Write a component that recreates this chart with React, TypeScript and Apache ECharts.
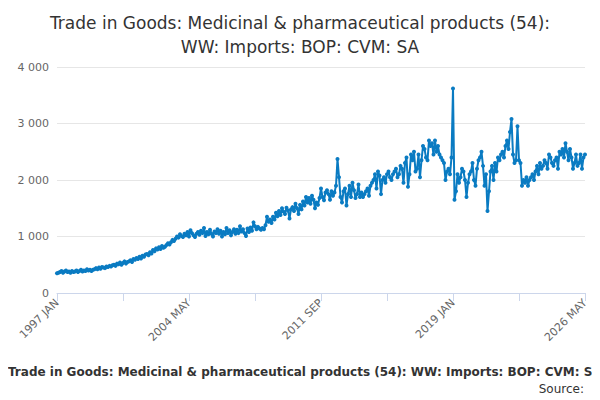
import { useEffect, useRef } from "react";
import * as echarts from "echarts";

const MONTHS = ["JAN", "FEB", "MAR", "APR", "MAY", "JUN", "JUL", "AUG", "SEP", "OCT", "NOV", "DEC"];

// monthly values, 1997 JAN .. 2026 MAY (one row per year)
const y1997 = [350, 360, 370, 390, 360, 380, 400, 370, 380, 360, 390, 370];
const y1998 = [380, 400, 370, 390, 410, 380, 400, 390, 420, 400, 410, 390];
const y1999 = [410, 420, 440, 420, 450, 430, 460, 450, 440, 470, 460, 480];
const y2000 = [470, 490, 500, 480, 520, 510, 540, 500, 530, 560, 520, 550];
const y2001 = [560, 580, 550, 600, 590, 620, 600, 640, 610, 660, 640, 680];
const y2002 = [690, 670, 720, 700, 760, 740, 790, 770, 810, 780, 830, 800];
const y2003 = [820, 850, 880, 860, 900, 940, 920, 960, 1000, 980, 1040, 1010];
const y2004 = [990, 1050, 1020, 1080, 1000, 1110, 1060, 1020, 990, 1050, 1080, 1030];
const y2005 = [1100, 1060, 1150, 1010, 1080, 1040, 1120, 1050, 1000, 1090, 1060, 1130];
const y2006 = [1050, 1100, 1000, 1080, 1040, 1150, 1060, 1110, 1020, 1080, 1130, 1050];
const y2007 = [1120, 1060, 1180, 1090, 1130, 1060, 1010, 1140, 1080, 1160, 1100, 1250];
const y2008 = [1180, 1130, 1170, 1140, 1120, 1150, 1130, 1200, 1350, 1260, 1300, 1240];
const y2009 = [1350, 1300, 1420, 1360, 1450, 1380, 1500, 1440, 1400, 1510, 1460, 1320];
const y2010 = [1480, 1520, 1450, 1580, 1500, 1400, 1560, 1480, 1620, 1550, 1700, 1600];
const y2011 = [1680, 1580, 1720, 1650, 1500, 1600, 1560, 1680, 1850, 1700, 1640, 1780];
const y2012 = [1820, 1750, 1650, 1800, 1720, 1780, 1900, 2370, 2050, 1700, 1600, 1800];
const y2013 = [1850, 1550, 1750, 1900, 1700, 1950, 1820, 1680, 1750, 1920, 1700, 1780];
const y2014 = [1700, 1750, 1800, 1850, 1720, 1900, 1950, 2000, 2100, 1850, 2150, 2080];
const y2015 = [1750, 2000, 2050, 1950, 2100, 2150, 2050, 2000, 2100, 2150, 2200, 2050];
const y2016 = [2100, 2250, 2200, 1950, 2300, 2400, 1880, 2100, 2450, 2350, 2500, 2150];
const y2017 = [2200, 2450, 2050, 2350, 2600, 2550, 2400, 2350, 2700, 2600, 2650, 2450];
const y2018 = [2700, 2500, 2600, 2450, 2400, 2350, 2300, 2000, 2150, 2200, 2100, 2400];
const y2019 = [3620, 1650, 1800, 2100, 1950, 2050, 2200, 2150, 2000, 1700, 1950, 2100];
const y2020 = [2150, 2300, 2000, 1900, 2200, 2350, 2400, 2500, 2250, 1900, 2100, 1450];
const y2021 = [1800, 2150, 2250, 2000, 2300, 2150, 2400, 2350, 2450, 2500, 2400, 2600];
const y2022 = [2700, 2550, 2850, 3080, 2450, 2300, 2350, 2950, 2350, 2300, 1900, 2000];
const y2023 = [1950, 2050, 1900, 2000, 2050, 2100, 2000, 2150, 2250, 2100, 2300, 2200];
const y2024 = [2250, 2350, 2300, 2200, 2450, 2400, 2300, 2250, 2350, 2400, 2200, 2500];
const y2025 = [2450, 2550, 2400, 2650, 2500, 2350, 2550, 2400, 2200, 2300, 2450, 2250];
const y2026 = [2300, 2450, 2200, 2400, 2450];

const YEARS = [y1997, y1998, y1999, y2000, y2001, y2002, y2003, y2004, y2005, y2006, y2007, y2008, y2009, y2010, y2011,
  y2012, y2013, y2014, y2015, y2016, y2017, y2018, y2019, y2020, y2021, y2022, y2023, y2024, y2025, y2026];

const categories: string[] = [];
const values: number[] = [];
YEARS.forEach((row, i) => row.forEach((v, m) => {
  categories.push(`${1997 + i} ${MONTHS[m]}`);
  values.push(v);
}));

const TITLE = "Trade in Goods: Medicinal & pharmaceutical products (54): WW: Imports: BOP: CVM: SA";

export default function App() {
  const ref = useRef<HTMLDivElement>(null);

  useEffect(() => {
    if (!ref.current) return;
    const chart = echarts.init(ref.current, undefined, { renderer: "svg" });
    chart.setOption({
      animation: false,
      title: {
        text: "Trade in Goods: Medicinal & pharmaceutical products (54):\nWW: Imports: BOP: CVM: SA",
        left: "center", top: -2,
        textStyle: { fontSize: 17, fontWeight: "normal", color: "#333", lineHeight: 24, fontFamily: "DejaVu Sans" },
      },
      graphic: [
        { type: "text", left: 0, top: 358, style: { text: TITLE, font: "bold 12px DejaVu Sans", fill: "#333" } },
        { type: "text", right: 8, top: 375, style: { text: "Source:", font: "12px DejaVu Sans", fill: "#333" } },
      ],
      grid: { left: 49, right: 7, top: 59, bottom: 107 },
      xAxis: {
        type: "category", data: categories, boundaryGap: false,
        axisLine: { lineStyle: { color: "#ccd6eb" } },
        axisTick: { alignWithLabel: true, interval: 43, lineStyle: { color: "#ccd6eb" }, length: 8 },
        axisLabel: { interval: 87, rotate: 45, color: "#666", fontSize: 11, fontFamily: "DejaVu Sans" },
      },
      yAxis: {
        type: "value", min: 0, max: 4000, interval: 1000,
        axisLabel: { color: "#666", fontSize: 11, fontFamily: "DejaVu Sans", formatter: (v: number) => v >= 1000 ? `${Math.floor(v / 1000)} ${String(v % 1000).padStart(3, "0")}` : `${v}` },
        splitLine: { lineStyle: { color: "#e6e6e6" } },
      },
      series: [{
        type: "line", data: values, symbol: "circle", symbolSize: 4, showSymbol: true, showAllSymbol: true,
        itemStyle: { color: "#0a7bc2" }, lineStyle: { width: 2, color: "#0a7bc2" },
      }],
    });
    return () => chart.dispose();
  }, []);

  return <div ref={ref} style={{ width: 584, height: 392 }} />;
}
